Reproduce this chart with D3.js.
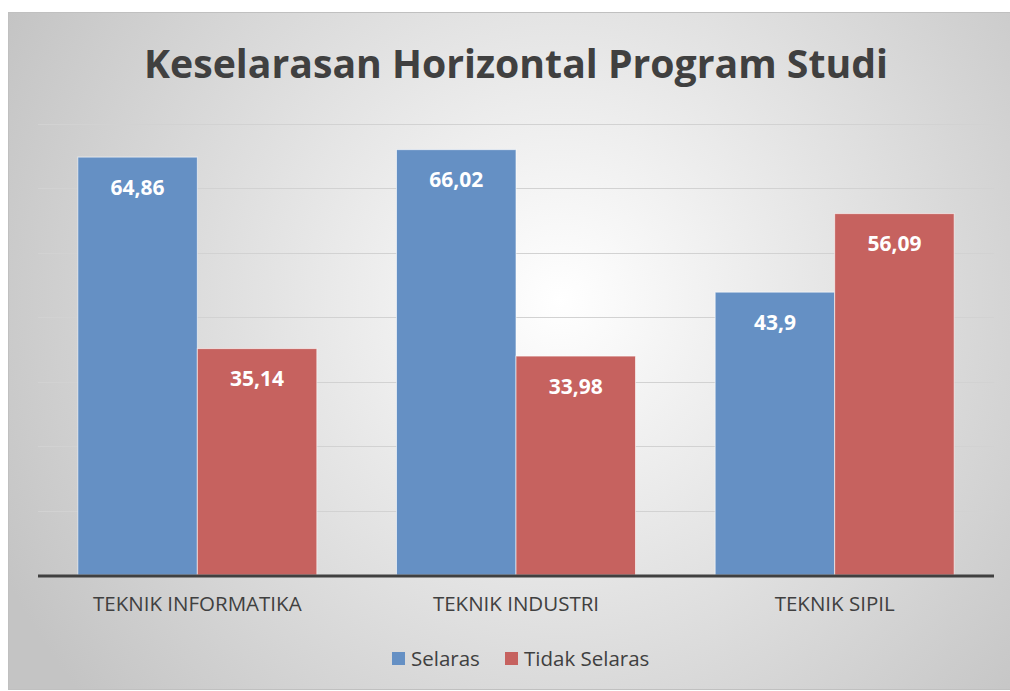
<!DOCTYPE html>
<html><head><meta charset="utf-8">
<script src="https://cdn.jsdelivr.net/npm/d3@7"></script>
<style>html,body{margin:0;padding:0;background:#fff;}svg{display:block;}</style>
</head><body>
<svg id="c" width="1010" height="691"></svg>
<script>
const categories = ["TEKNIK INFORMATIKA", "TEKNIK INDUSTRI", "TEKNIK SIPIL"];
const seriesNames = ["Selaras", "Tidak Selaras"];
const selaras = [64.86, 66.02, 43.9];
const tidakSelaras = [35.14, 33.98, 56.09];
const valueLabels = [["64,86", "66,02", "43,9"], ["35,14", "33,98", "56,09"]];
const yTicks = [0, 10, 20, 30, 40, 50, 60, 70];
const colors = ["#6590c4", "#c6625f"];

const svg = d3.select("#c");
const defs = svg.append("defs");
const rg = defs.append("radialGradient").attr("id", "bg")
  .attr("gradientUnits", "userSpaceOnUse")
  .attr("cx", 560).attr("cy", 300).attr("r", 620);
rg.append("stop").attr("offset", "0").attr("stop-color", "#ffffff");
rg.append("stop").attr("offset", "1").attr("stop-color", "#c4c4c4");

svg.append("rect").attr("x", 8.5).attr("y", 12.5).attr("width", 1010).attr("height", 677)
  .attr("fill", "url(#bg)").attr("stroke", "#c0c0c0").attr("stroke-width", 1);

const font = "'Open Sans', 'Liberation Sans', sans-serif";
const pLeft = 38, pRight = 994, pTop = 124, pBottom = 575;

svg.append("text").attr("x", 516).attr("y", 78).attr("text-anchor", "middle")
  .attr("font-family", font).attr("font-weight", "bold").attr("font-size", 39.2)
  .attr("fill", "#404040").text("Keselarasan Horizontal Program Studi");

const x0 = d3.scaleBand().domain(categories).range([pLeft, pRight]).paddingInner(0.25).paddingOuter(0.125);
const x1 = d3.scaleBand().domain(seriesNames).range([0, x0.bandwidth()]);
const y = d3.scaleLinear().domain([0, 70]).range([pBottom, pTop]);

svg.append("g").selectAll("line").data(yTicks.filter(d => d > 0)).join("line")
  .attr("x1", pLeft).attr("x2", pRight)
  .attr("y1", d => Math.round(y(d)) + 0.5).attr("y2", d => Math.round(y(d)) + 0.5)
  .attr("stroke", "#d2d2d2").attr("stroke-width", 1);

const series = [selaras, tidakSelaras];
series.forEach((vals, si) => {
  const g = svg.append("g");
  g.selectAll("rect").data(vals).join("rect")
    .attr("x", (d, i) => x0(categories[i]) + x1(seriesNames[si]))
    .attr("y", d => y(d))
    .attr("width", x1.bandwidth())
    .attr("height", d => y(0) - y(d))
    .attr("fill", colors[si])
    .attr("stroke", "rgba(255,255,255,0.6)").attr("stroke-width", 1);
  g.selectAll("text").data(vals).join("text")
    .attr("x", (d, i) => x0(categories[i]) + x1(seriesNames[si]) + x1.bandwidth() / 2)
    .attr("y", d => y(d) + 37.5)
    .attr("text-anchor", "middle")
    .attr("font-family", font).attr("font-weight", "bold").attr("font-size", 21)
    .attr("fill", "#ffffff")
    .text((d, i) => valueLabels[si][i]);
});

const xAxis = svg.append("g").attr("transform", `translate(0,${pBottom})`)
  .call(d3.axisBottom(x0).tickSize(0).tickPadding(21));
xAxis.select(".domain").remove();
xAxis.selectAll("text").attr("font-family", font).attr("font-size", 20.5).attr("fill", "#404040");
svg.append("line").attr("x1", pLeft).attr("x2", pRight).attr("y1", pBottom + 1).attr("y2", pBottom + 1)
  .attr("stroke", "#404040").attr("stroke-width", 3);

const leg = svg.append("g");
const legX = [392, 505];
seriesNames.forEach((n, i) => {
  leg.append("rect").attr("x", legX[i]).attr("y", 652).attr("width", 13).attr("height", 13).attr("fill", colors[i]);
  leg.append("text").attr("x", legX[i] + 19).attr("y", 666)
    .attr("font-family", font).attr("font-size", 20.5).attr("fill", "#404040").text(n);
});
</script>
</body></html>
